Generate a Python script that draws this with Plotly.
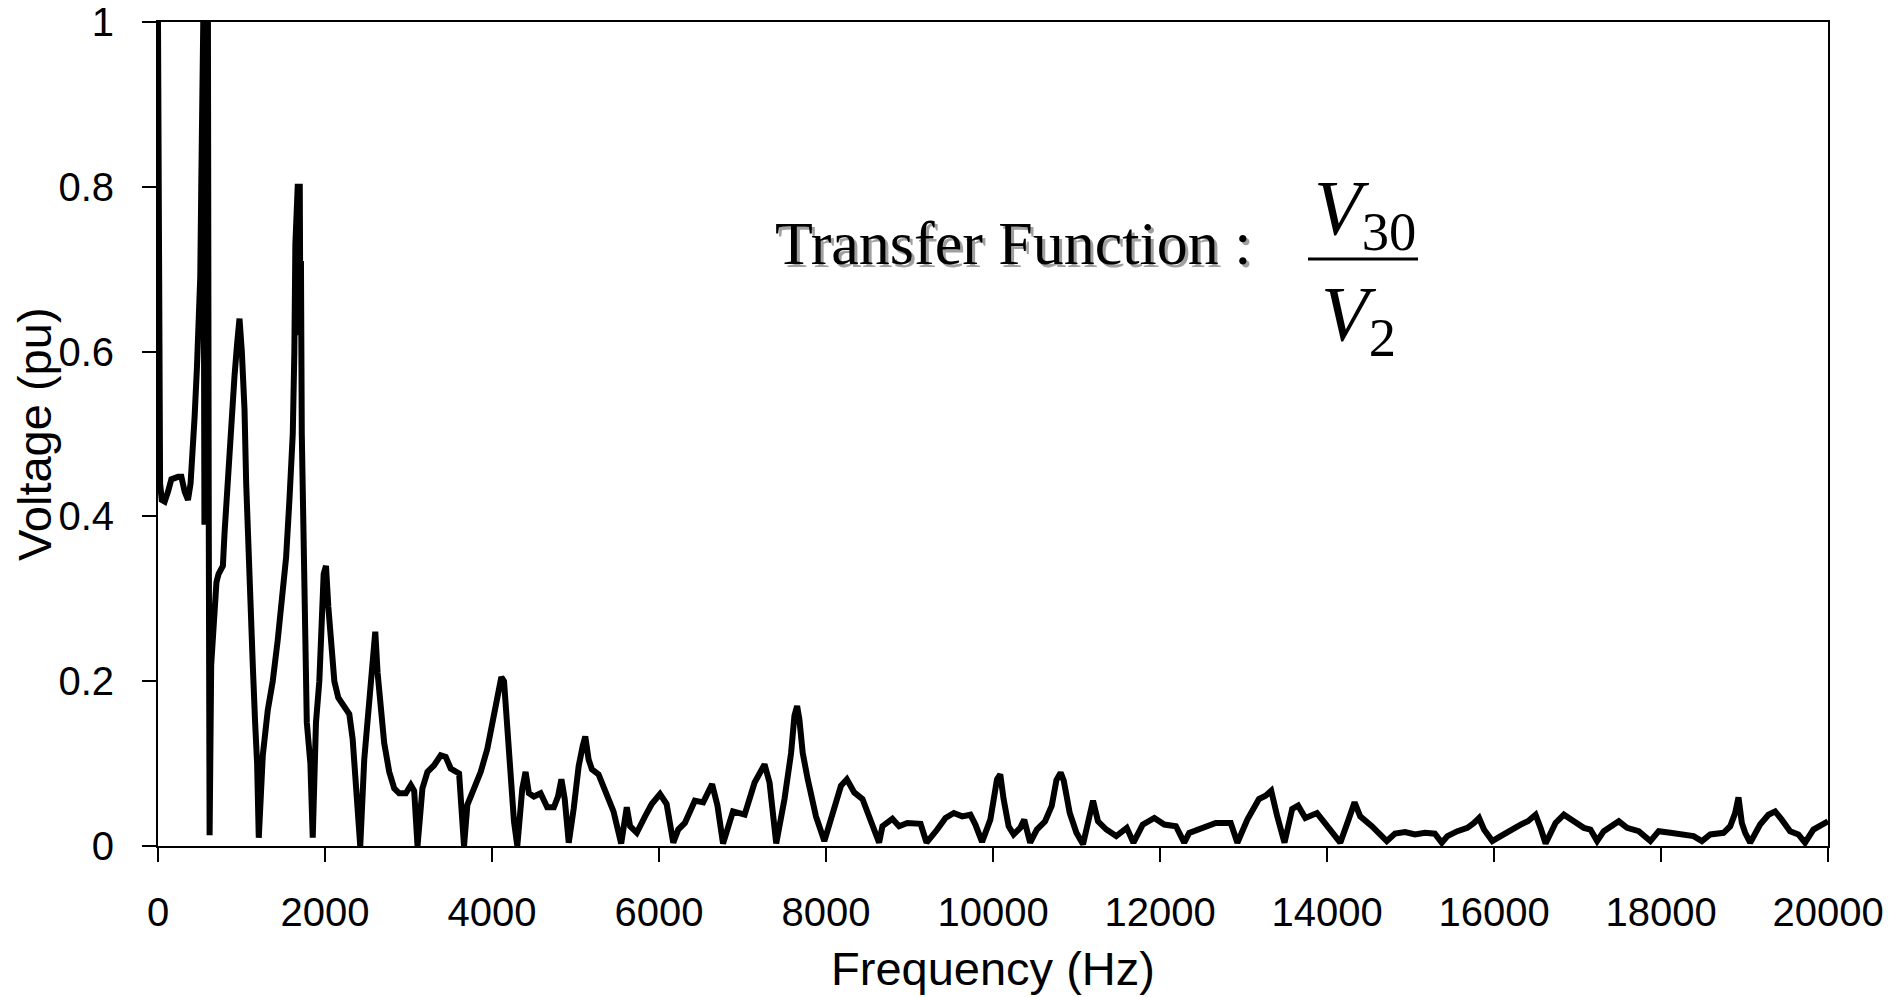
import plotly.graph_objects as go

# Frequency response samples: |V30 / V2| versus frequency
freq_hz = [
    0, 8, 25, 45, 80, 120, 160, 240, 280, 319, 359, 390, 418, 438, 466, 486, 506, 518, 530, 542,
    556, 570, 585, 598, 608, 618, 637, 657, 677, 700, 725, 777, 797, 837, 876, 916, 948, 976,
    1004, 1036, 1056, 1076, 1108, 1135, 1163, 1187, 1207, 1255, 1315, 1374, 1434, 1494, 1534,
    1574, 1614, 1633, 1645, 1673, 1698, 1705, 1712, 1722, 1742, 1762, 1782, 1825, 1853, 1892,
    1932, 1960, 1984, 2012, 2024, 2040, 2072, 2112, 2159, 2231, 2291, 2331, 2359, 2398, 2422,
    2470, 2518, 2550, 2582, 2602, 2630, 2669, 2709, 2769, 2829, 2888, 2968, 3028, 3068, 3108,
    3167, 3227, 3307, 3386, 3446, 3506, 3606, 3665, 3705, 3785, 3865, 3944, 4004, 4064, 4112,
    4144, 4183, 4223, 4263, 4303, 4363, 4402, 4442, 4502, 4582, 4661, 4741, 4790, 4831, 4871,
    4919, 4978, 5038, 5086, 5117, 5157, 5197, 5276, 5356, 5455, 5547, 5614, 5654, 5734, 5833,
    5913, 6012, 6091, 6171, 6231, 6310, 6429, 6529, 6636, 6700, 6767, 6886, 7026, 7145, 7264,
    7324, 7404, 7503, 7582, 7622, 7654, 7681, 7721, 7781, 7880, 7980, 8099, 8179, 8250, 8338,
    8437, 8536, 8636, 8676, 8795, 8875, 8974, 9133, 9204, 9332, 9431, 9531, 9630, 9729, 9789,
    9869, 9968, 10048, 10087, 10127, 10187, 10247, 10326, 10374, 10445, 10525, 10624, 10704,
    10760, 10810, 10848, 10919, 10999, 11078, 11138, 11198, 11257, 11357, 11476, 11602, 11682,
    11793, 11932, 12052, 12191, 12290, 12350, 12509, 12668, 12847, 12927, 13046, 13185, 13265,
    13332, 13404, 13491, 13583, 13654, 13741, 13880, 14020, 14159, 14258, 14330, 14398, 14537,
    14716, 14815, 14935, 15054, 15173, 15292, 15375, 15442, 15562, 15681, 15761, 15821, 15880,
    15980, 16080, 16199, 16319, 16406, 16498, 16558, 16618, 16737, 16837, 16956, 17076, 17155,
    17235, 17315, 17394, 17494, 17594, 17733, 17873, 17972, 18112, 18271, 18390, 18490, 18590,
    18749, 18829, 18888, 18928, 18968, 19008, 19068, 19187, 19287, 19367, 19446, 19546, 19645,
    19725, 19825, 19924, 20000,
]

voltage_pu = [
    1.0, 0.51, 0.44, 0.42, 0.418, 0.43, 0.445, 0.448, 0.448, 0.43, 0.42, 0.44, 0.48, 0.52, 0.58,
    0.62, 0.69, 0.80, 0.88, 1.0,
    0.39, 1.0, 0.40, 1.0, 0.39, 0.013, 0.22, 0.26, 0.30, 0.32, 0.33, 0.34, 0.38, 0.45, 0.52, 0.57,
    0.61, 0.64,
    0.60, 0.53, 0.44, 0.37, 0.29, 0.22, 0.15, 0.10, 0.01, 0.11, 0.165, 0.20, 0.25, 0.31, 0.35,
    0.42, 0.50, 0.60, 0.73, 0.80, 0.80, 0.62, 0.71, 0.50, 0.35, 0.24, 0.15, 0.10, 0.01, 0.15,
    0.20, 0.27, 0.33, 0.34, 0.30, 0.29, 0.25, 0.20, 0.18, 0.17, 0.16, 0.13, 0.085, 0.045, 0.0,
    0.105, 0.16, 0.20, 0.23, 0.26, 0.21, 0.16, 0.125, 0.09, 0.07, 0.064, 0.064, 0.074, 0.067, 0.0,
    0.07, 0.09, 0.098, 0.11, 0.108, 0.094, 0.088, 0.0, 0.05, 0.07, 0.09, 0.118, 0.15, 0.185, 0.205,
    0.20, 0.14, 0.07, 0.03, 0.0, 0.07, 0.09, 0.064, 0.06, 0.064, 0.047, 0.047, 0.06, 0.081, 0.057,
    0.004, 0.045, 0.097, 0.121, 0.133, 0.105, 0.093, 0.087, 0.065, 0.042, 0.003, 0.047, 0.024,
    0.016, 0.036,
    0.051, 0.063, 0.051, 0.004, 0.020, 0.028, 0.055, 0.053, 0.075, 0.049, 0.003, 0.042, 0.038,
    0.077, 0.099,
    0.077, 0.003, 0.057, 0.113, 0.158, 0.170, 0.154, 0.113, 0.081, 0.036, 0.006, 0.049, 0.073,
    0.081, 0.065,
    0.057, 0.028, 0.004, 0.024, 0.033, 0.024, 0.028, 0.027, 0.004, 0.020, 0.034, 0.040, 0.036,
    0.038, 0.026,
    0.005, 0.032, 0.081, 0.087, 0.057, 0.024, 0.014, 0.022, 0.032, 0.004, 0.020, 0.030, 0.049,
    0.080, 0.089, 0.079, 0.040, 0.016, 0.002, 0.032, 0.055, 0.030, 0.020, 0.012, 0.022, 0.004,
    0.026, 0.034, 0.026, 0.024, 0.004, 0.016, 0.022, 0.028, 0.028, 0.004, 0.032, 0.057, 0.061,
    0.067, 0.036, 0.004, 0.045, 0.049, 0.034, 0.040, 0.022, 0.004, 0.032, 0.053, 0.036, 0.024,
    0.006, 0.015, 0.017, 0.014, 0.016, 0.015, 0.004, 0.012, 0.018, 0.022, 0.028, 0.034, 0.020,
    0.006, 0.012, 0.020, 0.026, 0.030, 0.038, 0.022, 0.003, 0.028, 0.038, 0.030, 0.022, 0.020,
    0.006, 0.018, 0.023, 0.030, 0.022, 0.018, 0.006, 0.018, 0.016, 0.014, 0.012, 0.006, 0.014,
    0.016, 0.024, 0.040, 0.059, 0.028, 0.016, 0.004, 0.026, 0.038, 0.042, 0.032, 0.018, 0.014,
    0.004, 0.020, 0.026, 0.030,
]

x_ticks = [0, 2000, 4000, 6000, 8000, 10000, 12000, 14000, 16000, 18000, 20000]
y_ticks = [0, 0.2, 0.4, 0.6, 0.8, 1]

x_title = "Frequency (Hz)"
y_title = "Voltage (pu)"
tf_label = "Transfer Function :"
numerator = "<i>V</i><sub>30</sub>"
denominator = "<i>V</i><sub>2</sub>"

SANS = "Liberation Sans, Arial, sans-serif"
SERIF = "Liberation Serif, Times New Roman, serif"

fig = go.Figure()
fig.add_trace(go.Scatter(
    x=freq_hz, y=voltage_pu, mode="lines",
    line=dict(color="black", width=6),
    showlegend=False, hoverinfo="skip",
))

axis_common = dict(
    showgrid=False, zeroline=False,
    showline=True, linecolor="black", linewidth=2, mirror=True,
    ticks="outside", ticklen=14, tickwidth=1.5, tickcolor="black",
    tickfont=dict(family=SANS, size=40, color="black"),
)

fig.update_xaxes(
    range=[0, 20000], tickvals=x_ticks, tickformat="d",
    ticklabelstandoff=16,
    title_text=x_title, title_standoff=19,
    title_font=dict(family=SANS, size=47, color="black"),
    **axis_common,
)
fig.update_yaxes(
    range=[0, 1], tickvals=y_ticks,
    ticklabelstandoff=20,
    **axis_common,
)

# Vertical axis title, placed just left of the tick labels
fig.add_annotation(
    xref="paper", yref="paper", x=-0.0743, y=0.5,
    xanchor="center", yanchor="middle", showarrow=False,
    text=y_title, textangle=-90,
    font=dict(family=SANS, size=47, color="black"),
)

# Label "Transfer Function :" with its soft grey drop shadow
for shade, dx, dy in (("#a0a0a0", 3, -3), ("black", 0, 0)):
    fig.add_annotation(
        xref="paper", yref="paper", x=0.3683, y=0.7318,
        xanchor="left", yanchor="middle", showarrow=False,
        text=tf_label, xshift=dx, yshift=dy,
        font=dict(family=SERIF, size=62, color=shade),
    )

# Fraction V30 / V2
fig.add_annotation(
    xref="paper", yref="paper", x=0.7228, y=0.768,
    xanchor="center", yanchor="middle", showarrow=False,
    text=numerator, font=dict(family=SERIF, size=78, color="black"),
)
fig.add_annotation(
    xref="paper", yref="paper", x=0.7186, y=0.640,
    xanchor="center", yanchor="middle", showarrow=False,
    text=denominator, font=dict(family=SERIF, size=78, color="black"),
)
fig.add_shape(
    type="line", xref="paper", yref="paper",
    x0=0.6886, x1=0.7545, y0=0.7124, y1=0.7124,
    line=dict(color="black", width=3),
)

fig.update_layout(
    width=1904, height=997,
    margin=dict(l=158, r=76, t=22, b=151, autoexpand=False),
    paper_bgcolor="white", plot_bgcolor="white",
)

fig.write_html("out.html")
